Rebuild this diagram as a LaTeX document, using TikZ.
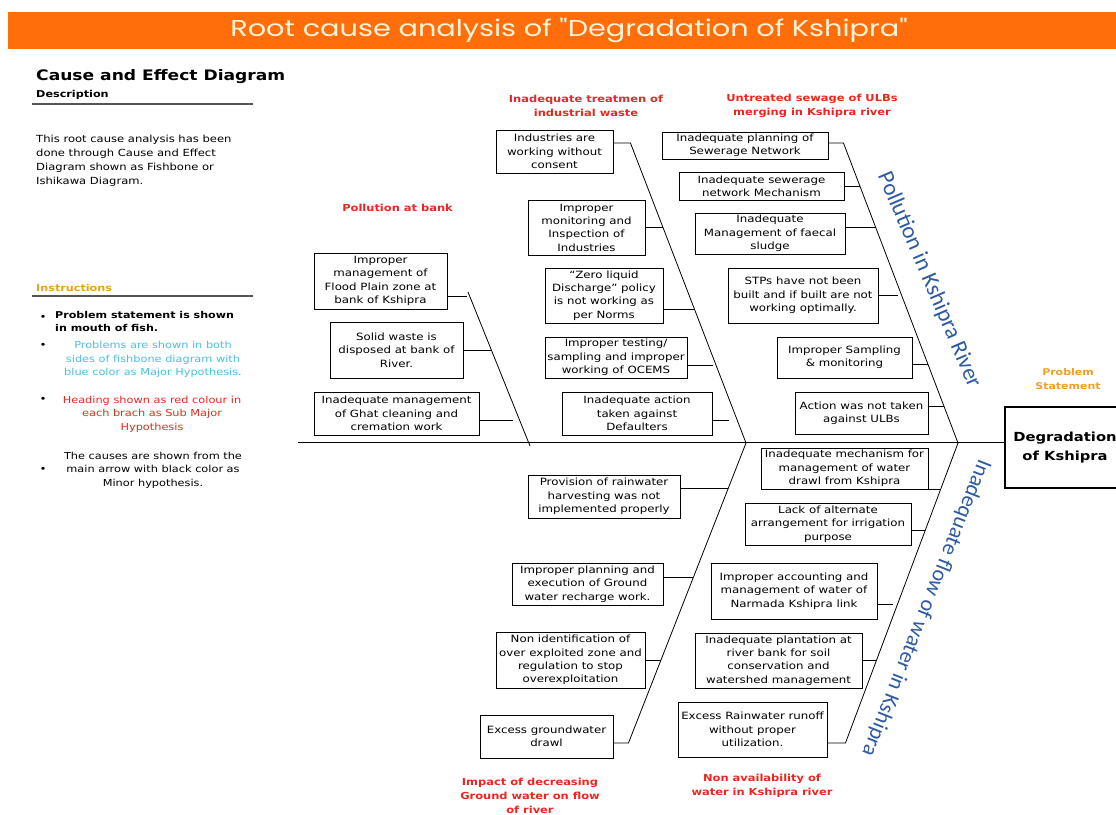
\documentclass[tikz,border=0pt]{standalone}
\usepackage{fontspec}
\setmainfont[FakeStretch=1.18]{DejaVu Sans}
\newfontfamily\titlefont[FakeStretch=1.25]{Poppins}
\newfontfamily\majorfont{Carlito}
\usepackage{tikz}
\definecolor{titlebar}{RGB}{255,110,10}
\definecolor{titletext}{RGB}{255,244,215}
\definecolor{headred}{RGB}{232,40,30}
\definecolor{noteorange}{RGB}{240,160,30}
\definecolor{notecyan}{RGB}{75,190,225}
\definecolor{majorblue}{RGB}{45,90,160}
\definecolor{rulegray}{RGB}{85,85,85}

\begin{document}
\begin{tikzpicture}[x=1pt,y=-1pt,
  cause/.style={draw,line width=0.9pt,align=center,inner sep=1pt,font=\fontsize{10}{13.3}\selectfont},
  subhead/.style={text=headred,align=center,font=\bfseries\fontsize{9.7}{13.8}\selectfont},
  note/.style={align=center,inner sep=0pt,font=\fontsize{9.6}{13.6}\selectfont},
  bone/.style={line width=0.8pt},
  major/.style={text=majorblue,inner sep=0pt,font=\majorfont\fontsize{23}{26}\selectfont}]
\useasboundingbox (0,0) rectangle (1116,814);
\clip (0,0) rectangle (1116,814);

\node (title) [fill=titlebar,text=titletext,minimum width=1122pt,minimum height=37pt,
  font=\titlefont\fontsize{23}{26}\selectfont] at (569,30.5) {Root cause analysis of "Degradation of Kshipra"};

\node (cehead) [anchor=west,inner sep=0pt,font=\bfseries\fontsize{14.5}{17}\selectfont] at (36,77) {Cause and Effect Diagram};
\node (desc) [anchor=west,inner sep=0pt,font=\bfseries\fontsize{9.5}{12}\selectfont] at (36,95) {Description};
\draw [rulegray,line width=2pt] (32,104) -- (253,104);
\node (descbody) [anchor=north west,align=left,inner sep=0pt,font=\fontsize{9.8}{14}\selectfont] at (36,135)
  {This root cause analysis has been\\done through Cause and Effect\\Diagram shown as Fishbone or\\Ishikawa Diagram.};
\node (instr) [anchor=west,inner sep=0pt,text=noteorange,font=\bfseries\fontsize{9.5}{12}\selectfont] at (36,288) {Instructions};
\draw [rulegray,line width=2pt] (32,296) -- (253,296);
\node (bul1) [inner sep=0pt] at (43,318) {\textbullet};
\node (note1) [anchor=north west,align=left,inner sep=0pt,font=\bfseries\fontsize{9.4}{13.6}\selectfont] at (55,311)
  {Problem statement is shown\\in mouth of fish.};
\node (bul2) [inner sep=0pt] at (43,346) {\textbullet};
\node (note2) [note,text=notecyan] at (153,359.5) {Problems are shown in both\\sides of fishbone diagram with\\blue color as Major Hypothesis.};
\node (bul3) [inner sep=0pt] at (43,400) {\textbullet};
\node (note3) [note,text=headred] at (152,414) {Heading shown as red colour in\\each brach  as Sub Major\\Hypothesis};
\node (bul4) [inner sep=0pt] at (43,470) {\textbullet};
\node (note4) [note] at (153,470) {The causes are shown from the\\main arrow with black color as\\Minor hypothesis.};

\node (head) [draw,line width=2pt,minimum width=120pt,minimum height=81pt,align=center,
  font=\bfseries\fontsize{12.5}{19}\selectfont] at (1065,447.5) {Degradation\\of Kshipra};
\node (probhd) [text=noteorange,align=center,font=\bfseries\fontsize{9.3}{13.5}\selectfont] at (1068,379) {Problem\\Statement};
\coordinate (tail) at (298,442.5);
\draw [bone] (tail) -- ([yshift=5pt]head.west);

\node (bankhd) [subhead] at (397.5,208) {Pollution at bank};
\node (bank1) [cause,minimum width=133pt,minimum height=56pt] at (380.5,281) {Improper\\management of\\Flood Plain zone  at\\bank of Kshipra};
\node (bank2) [cause,minimum width=133pt,minimum height=56pt] at (396.5,350) {Solid waste is\\disposed at bank of\\River.};
\node (bank3) [cause,minimum width=165pt,minimum height=43pt] at (396.5,413.5) {Inadequate management\\of Ghat cleaning and\\cremation work};
\coordinate (banktop) at (468,292);
\coordinate (bankend) at (530,446);
\draw [bone] (banktop) -- (bankend);
\draw [bone] ([yshift=-15pt]bank1.east) -- ++(20,0);
\draw [bone] (bank2.east) -- ++(28,0);
\draw [bone] ([yshift=-6.5pt]bank3.east) -- ++(34,0);

\node (indhd) [subhead] at (586,106) {Inadequate treatmen of\\industrial waste};
\node (ind1) [cause,minimum width=117pt,minimum height=43pt] at (554.5,151.5) {Industries are\\working without\\consent};
\node (ind2) [cause,minimum width=117pt,minimum height=55pt] at (586.5,227.5) {Improper\\monitoring and\\Inspection of\\Industries};
\node (ind3) [cause,minimum width=118pt,minimum height=55pt] at (604,295.5) {“Zero liquid\\Discharge” policy\\is not working as\\per Norms};
\node (ind4) [cause,minimum width=142pt,minimum height=41pt] at (616,357.5) {Improper testing/\\sampling and improper\\working of OCEMS};
\node (ind5) [cause,minimum width=150pt,minimum height=43pt] at (637,413.5) {Inadequate action\\taken against\\Defaulters};
\coordinate (indend) at (746,443);
\draw [bone] ([yshift=8.5pt]ind1.east) -- ++(17,0) -- (indend);
\draw [bone] (ind2.east) -- ++(17.5,0);
\draw [bone] ([yshift=-13.5pt]ind3.east) -- ++(31,0);
\draw [bone] ([yshift=-7.5pt]ind4.east) -- ++(26,0);
\draw [bone] ([yshift=-6.5pt]ind5.east) -- ++(17,0);

\node (sewhd) [subhead] at (812,105.5) {Untreated sewage of ULBs\\merging in Kshipra river};
\node (sew1) [cause,minimum width=166pt,minimum height=27pt] at (745,145.5) {Inadequate planning of\\Sewerage Network};
\node (sew2) [cause,minimum width=165pt,minimum height=28pt] at (761.5,186) {Inadequate sewerage\\network Mechanism};
\node (sew3) [cause,minimum width=150pt,minimum height=41pt] at (770,233.5) {Inadequate\\Management of faecal\\sludge};
\node (sew4) [cause,minimum width=150pt,minimum height=55pt] at (803,295.5) {STPs have not been\\built and if built are not\\working optimally.};
\node (sew5) [cause,minimum width=135pt,minimum height=41pt] at (844.5,357.5) {Improper Sampling\\\& monitoring};
\node (sew6) [cause,minimum width=133pt,minimum height=42pt] at (861.5,413) {Action was not taken\\against ULBs};
\coordinate (sewend) at (958,443);
\draw [bone] ([yshift=2.5pt]sew1.east) -- ++(15,0) -- (sewend);
\draw [bone] (sew2.east) -- ++(15.5,0);
\draw [bone] ([yshift=6.5pt]sew3.east) -- ++(31,0);
\draw [bone] (sew4.east) -- ++(20,0);
\draw [bone] ([yshift=-6.5pt]sew5.east) -- ++(16,0);
\draw [bone] ([yshift=7pt]sew6.east) -- ++(16,0);
\node (polmajor) [major,rotate=-66.8] at (929,280) {Pollution in Kshipra River};

\node (gwhd) [subhead] at (530,796) {Impact of decreasing\\Ground water on flow\\of river};
\node (gw1) [cause,minimum width=152pt,minimum height=43pt] at (604,496.5) {Provision of rainwater\\harvesting was not\\implemented properly};
\node (gw2) [cause,minimum width=151pt,minimum height=42pt] at (587.5,584) {Improper planning and\\execution of Ground\\water recharge work.};
\node (gw3) [cause,minimum width=149pt,minimum height=56pt] at (570.5,660) {Non identification  of\\over exploited zone and\\regulation to stop\\overexploitation};
\node (gw4) [cause,minimum width=133pt,minimum height=43pt] at (546.5,736.5) {Excess groundwater\\drawl};
\draw [bone] ([yshift=-6.5pt]gw4.east) -- ++(15,0) -- (indend);
\draw [bone] ([yshift=8.5pt]gw1.east) -- ++(48,0);
\draw [bone] ([yshift=7pt]gw2.east) -- ++(30,0);
\draw [bone] (gw3.east) -- ++(15.5,0);

\node (flowhd) [subhead] at (762,785.5) {Non availability of\\water in Kshipra river};
\node (flow1) [cause,minimum width=167pt,minimum height=41pt] at (844.5,468.5) {Inadequate mechanism for\\management of  water\\drawl from Kshipra};
\node (flow2) [cause,minimum width=166pt,minimum height=42pt] at (828,524) {Lack of alternate\\arrangement for irrigation\\purpose};
\node (flow3) [cause,minimum width=166pt,minimum height=56pt] at (794,591) {Improper accounting and\\management  of water of\\Narmada Kshipra link};
\node (flow4) [cause,minimum width=167pt,minimum height=55pt] at (778.5,660.5) {Inadequate plantation at\\river bank for soil\\conservation and\\watershed management};
\node (flow5) [cause,minimum width=149pt,minimum height=55pt] at (752.5,729.5) {Excess Rainwater runoff\\without proper\\utilization.};
\draw [bone] ([yshift=-13.5pt]flow5.east) -- ++(18,0) -- (sewend);
\draw [bone] ([yshift=-20.5pt]flow1.east) -- ++(12,0);
\draw [bone] ([yshift=-6pt]flow2.east) -- ++(14,0);
\draw [bone] ([yshift=-13pt]flow3.east) -- ++(16,0);
\draw [bone] (flow4.east) -- ++(14,0);
\node (flowmajor) [major,rotate=-111.6,font=\majorfont\fontsize{22}{26}\selectfont] at (926,608) {Inadequate flow of water in Kshipra};
\end{tikzpicture}
\end{document}
